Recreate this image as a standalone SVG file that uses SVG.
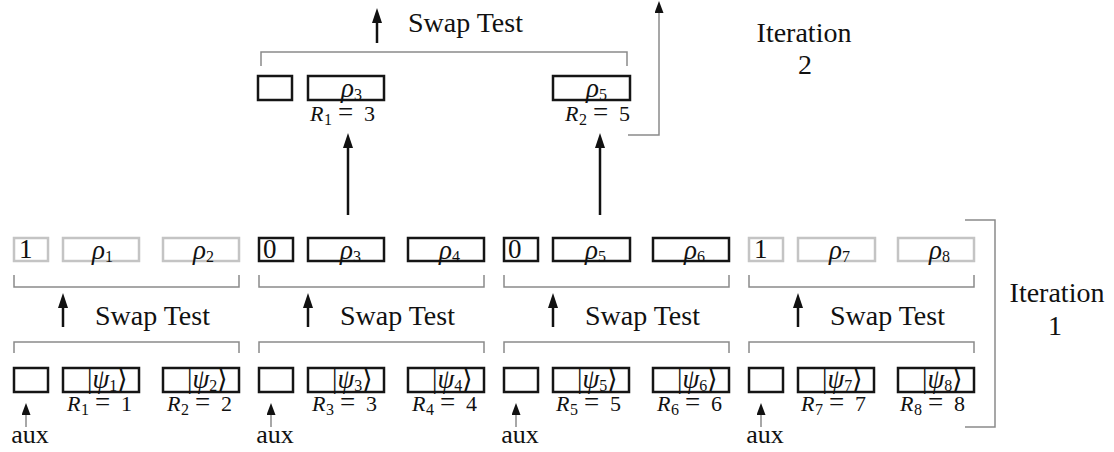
<svg xmlns="http://www.w3.org/2000/svg" width="1114" height="452" viewBox="0 0 1114 452">
<style>
text{fill:#111}
.bk{fill:#fff;stroke:#151515;stroke-width:2.5}
.gy{fill:#fff;stroke:#c4c4c4;stroke-width:2.5}
.br{fill:none;stroke:#8a8a8a;stroke-width:1.5}
.ar{fill:none;stroke:#111;stroke-width:2.5;marker-end:url(#ah)}
.ax{fill:none;stroke:#8a8a8a;stroke-width:1.5;marker-end:url(#ah2)}
.big{font-size:28px}
.ux{font-size:26px}
.dg{font-size:27px}
.m{font-size:27px}
.r{font-size:22px}
.it{font-style:italic}
.sb{font-size:16px}
.eq{font-size:27px}
</style>
<defs>
<marker id="ah" markerUnits="userSpaceOnUse" markerWidth="15" markerHeight="10" refX="3" refY="5" orient="auto"><path d="M0,0 L15,5 L0,10 z" fill="#111"/></marker>
<marker id="ah2" markerUnits="userSpaceOnUse" markerWidth="12" markerHeight="9" refX="2" refY="4.5" orient="auto"><path d="M0,0 L12,4.5 L0,9 z" fill="#111"/></marker>
</defs>

<g id="connectors">
<path class="ar" d="M348,215 V145"/>
<path class="ar" d="M600,215 V145"/>
<path class="ax" d="M628,135 H659 V11"/>
<path class="ar" d="M377,43 V20"/>
<path class="ar" d="M63,327 V305"/>
<path class="ar" d="M308,327 V305"/>
<path class="ar" d="M553,327 V305"/>
<path class="ar" d="M798,327 V305"/>
<path class="ax" d="M26,427 V413"/>
<path class="ax" d="M271,427 V413"/>
<path class="ax" d="M516,427 V413"/>
<path class="ax" d="M761,427 V413"/>
</g>

<g id="brackets">
<path class="br" d="M261,66 V52 H627 V66"/>
<path class="br" d="M14,275 V287 H239 V275"/>
<path class="br" d="M259,275 V287 H484 V275"/>
<path class="br" d="M504,275 V287 H729 V275"/>
<path class="br" d="M749,275 V287 H974 V275"/>
<path class="br" d="M14,353 V342 H239 V353"/>
<path class="br" d="M259,353 V342 H484 V353"/>
<path class="br" d="M504,353 V342 H729 V353"/>
<path class="br" d="M749,353 V342 H974 V353"/>
<path class="br" d="M965,220 H995 V427 H965"/>
</g>

<g id="labels">
<text font-family="Liberation Serif" class="big" x="408" y="32">Swap Test</text>
<text font-family="Liberation Serif" class="big" x="95" y="325">Swap Test</text>
<text font-family="Liberation Serif" class="big" x="340" y="325">Swap Test</text>
<text font-family="Liberation Serif" class="big" x="585" y="325">Swap Test</text>
<text font-family="Liberation Serif" class="big" x="830" y="325">Swap Test</text>
<text font-family="Liberation Serif" class="big" x="804" y="42" text-anchor="middle">Iteration</text>
<text font-family="Liberation Serif" class="big" x="805" y="74" text-anchor="middle">2</text>
<text font-family="Liberation Serif" class="big" x="1057" y="302" text-anchor="middle">Iteration</text>
<text font-family="Liberation Serif" class="big" x="1055" y="335" text-anchor="middle">1</text>
<text font-family="Liberation Serif" class="ux" x="30" y="443" text-anchor="middle">aux</text>
<text font-family="Liberation Serif" class="ux" x="275" y="443" text-anchor="middle">aux</text>
<text font-family="Liberation Serif" class="ux" x="520" y="443" text-anchor="middle">aux</text>
<text font-family="Liberation Serif" class="ux" x="765" y="443" text-anchor="middle">aux</text>
</g>

<!-- Iteration 2 -->
<g id="top-aux"><rect class="bk" x="258" y="76" width="34" height="24"/></g>
<g id="top-rho3"><rect class="bk" x="308" y="76" width="76" height="24"/>
<text font-family="Liberation Serif" class="m" x="341" y="97"><tspan class="it">ρ</tspan><tspan class="sb" dy="3">3</tspan></text>
<text font-family="Liberation Serif" class="r" x="310" y="121"><tspan class="it">R</tspan><tspan class="sb" x="324" dy="4">1</tspan><tspan class="eq" x="338" dy="-4">=</tspan><tspan x="364">3</tspan></text></g>
<g id="top-rho5"><rect class="bk" x="553" y="76" width="77" height="24"/>
<text font-family="Liberation Serif" class="m" x="586" y="97"><tspan class="it">ρ</tspan><tspan class="sb" dy="3">5</tspan></text>
<text font-family="Liberation Serif" class="r" x="565" y="121"><tspan class="it">R</tspan><tspan class="sb" x="579" dy="4">2</tspan><tspan class="eq" x="593" dy="-4">=</tspan><tspan x="619">5</tspan></text></g>

<!-- Iteration 1, middle row -->
<g id="m1"><rect class="gy" x="14" y="238" width="34" height="23"/><text font-family="Liberation Serif" class="dg" x="19" y="258">1</text></g>
<g id="m-rho1"><rect class="gy" x="63" y="238" width="76" height="23"/><text font-family="Liberation Serif" class="m" x="92" y="259"><tspan class="it">ρ</tspan><tspan class="sb" dy="3">1</tspan></text></g>
<g id="m-rho2"><rect class="gy" x="163" y="238" width="76" height="23"/><text font-family="Liberation Serif" class="m" x="193" y="259"><tspan class="it">ρ</tspan><tspan class="sb" dy="3">2</tspan></text></g>
<g id="m2"><rect class="bk" x="259" y="238" width="34" height="23"/><text font-family="Liberation Serif" class="dg" x="263" y="258">0</text></g>
<g id="m-rho3"><rect class="bk" x="308" y="238" width="76" height="23"/><text font-family="Liberation Serif" class="m" x="340" y="259"><tspan class="it">ρ</tspan><tspan class="sb" dy="3">3</tspan></text></g>
<g id="m-rho4"><rect class="bk" x="408" y="238" width="76" height="23"/><text font-family="Liberation Serif" class="m" x="439" y="259"><tspan class="it">ρ</tspan><tspan class="sb" dy="3">4</tspan></text></g>
<g id="m3"><rect class="bk" x="504" y="238" width="34" height="23"/><text font-family="Liberation Serif" class="dg" x="508" y="258">0</text></g>
<g id="m-rho5"><rect class="bk" x="553" y="238" width="77" height="23"/><text font-family="Liberation Serif" class="m" x="585" y="259"><tspan class="it">ρ</tspan><tspan class="sb" dy="3">5</tspan></text></g>
<g id="m-rho6"><rect class="bk" x="653" y="238" width="76" height="23"/><text font-family="Liberation Serif" class="m" x="684" y="259"><tspan class="it">ρ</tspan><tspan class="sb" dy="3">6</tspan></text></g>
<g id="m4"><rect class="gy" x="749" y="238" width="34" height="23"/><text font-family="Liberation Serif" class="dg" x="754" y="258">1</text></g>
<g id="m-rho7"><rect class="gy" x="798" y="238" width="77" height="23"/><text font-family="Liberation Serif" class="m" x="829" y="259"><tspan class="it">ρ</tspan><tspan class="sb" dy="3">7</tspan></text></g>
<g id="m-rho8"><rect class="gy" x="898" y="238" width="76" height="23"/><text font-family="Liberation Serif" class="m" x="929" y="259"><tspan class="it">ρ</tspan><tspan class="sb" dy="3">8</tspan></text></g>

<!-- Iteration 1, bottom row -->
<g id="aux1"><rect class="bk" x="14" y="368" width="34" height="24"/></g>
<g id="psi1"><rect class="bk" x="63" y="368" width="76" height="24"/>
<text font-family="Liberation Serif" class="m" x="87" y="388">|<tspan class="it">ψ</tspan><tspan class="sb" dy="3">1</tspan><tspan dy="-3">⟩</tspan></text>
<text font-family="Liberation Serif" class="r" x="67" y="411"><tspan class="it">R</tspan><tspan class="sb" x="81" dy="4">1</tspan><tspan class="eq" x="95" dy="-4">=</tspan><tspan x="121">1</tspan></text></g>
<g id="psi2"><rect class="bk" x="163" y="368" width="76" height="24"/>
<text font-family="Liberation Serif" class="m" x="187" y="388">|<tspan class="it">ψ</tspan><tspan class="sb" dy="3">2</tspan><tspan dy="-3">⟩</tspan></text>
<text font-family="Liberation Serif" class="r" x="167" y="411"><tspan class="it">R</tspan><tspan class="sb" x="181" dy="4">2</tspan><tspan class="eq" x="195" dy="-4">=</tspan><tspan x="221">2</tspan></text></g>

<g id="aux2"><rect class="bk" x="259" y="368" width="34" height="24"/></g>
<g id="psi3"><rect class="bk" x="308" y="368" width="76" height="24"/>
<text font-family="Liberation Serif" class="m" x="332" y="388">|<tspan class="it">ψ</tspan><tspan class="sb" dy="3">3</tspan><tspan dy="-3">⟩</tspan></text>
<text font-family="Liberation Serif" class="r" x="312" y="411"><tspan class="it">R</tspan><tspan class="sb" x="326" dy="4">3</tspan><tspan class="eq" x="340" dy="-4">=</tspan><tspan x="366">3</tspan></text></g>
<g id="psi4"><rect class="bk" x="408" y="368" width="76" height="24"/>
<text font-family="Liberation Serif" class="m" x="432" y="388">|<tspan class="it">ψ</tspan><tspan class="sb" dy="3">4</tspan><tspan dy="-3">⟩</tspan></text>
<text font-family="Liberation Serif" class="r" x="412" y="411"><tspan class="it">R</tspan><tspan class="sb" x="426" dy="4">4</tspan><tspan class="eq" x="440" dy="-4">=</tspan><tspan x="466">4</tspan></text></g>

<g id="aux3"><rect class="bk" x="504" y="368" width="34" height="24"/></g>
<g id="psi5"><rect class="bk" x="553" y="368" width="76" height="24"/>
<text font-family="Liberation Serif" class="m" x="577" y="388">|<tspan class="it">ψ</tspan><tspan class="sb" dy="3">5</tspan><tspan dy="-3">⟩</tspan></text>
<text font-family="Liberation Serif" class="r" x="556" y="411"><tspan class="it">R</tspan><tspan class="sb" x="570" dy="4">5</tspan><tspan class="eq" x="584" dy="-4">=</tspan><tspan x="610">5</tspan></text></g>
<g id="psi6"><rect class="bk" x="653" y="368" width="76" height="24"/>
<text font-family="Liberation Serif" class="m" x="677" y="388">|<tspan class="it">ψ</tspan><tspan class="sb" dy="3">6</tspan><tspan dy="-3">⟩</tspan></text>
<text font-family="Liberation Serif" class="r" x="657" y="411"><tspan class="it">R</tspan><tspan class="sb" x="671" dy="4">6</tspan><tspan class="eq" x="685" dy="-4">=</tspan><tspan x="711">6</tspan></text></g>

<g id="aux4"><rect class="bk" x="749" y="368" width="34" height="24"/></g>
<g id="psi7"><rect class="bk" x="798" y="368" width="76" height="24"/>
<text font-family="Liberation Serif" class="m" x="822" y="388">|<tspan class="it">ψ</tspan><tspan class="sb" dy="3">7</tspan><tspan dy="-3">⟩</tspan></text>
<text font-family="Liberation Serif" class="r" x="801" y="411"><tspan class="it">R</tspan><tspan class="sb" x="815" dy="4">7</tspan><tspan class="eq" x="829" dy="-4">=</tspan><tspan x="855">7</tspan></text></g>
<g id="psi8"><rect class="bk" x="898" y="368" width="76" height="24"/>
<text font-family="Liberation Serif" class="m" x="922" y="388">|<tspan class="it">ψ</tspan><tspan class="sb" dy="3">8</tspan><tspan dy="-3">⟩</tspan></text>
<text font-family="Liberation Serif" class="r" x="900" y="411"><tspan class="it">R</tspan><tspan class="sb" x="914" dy="4">8</tspan><tspan class="eq" x="928" dy="-4">=</tspan><tspan x="954">8</tspan></text></g>
</svg>
